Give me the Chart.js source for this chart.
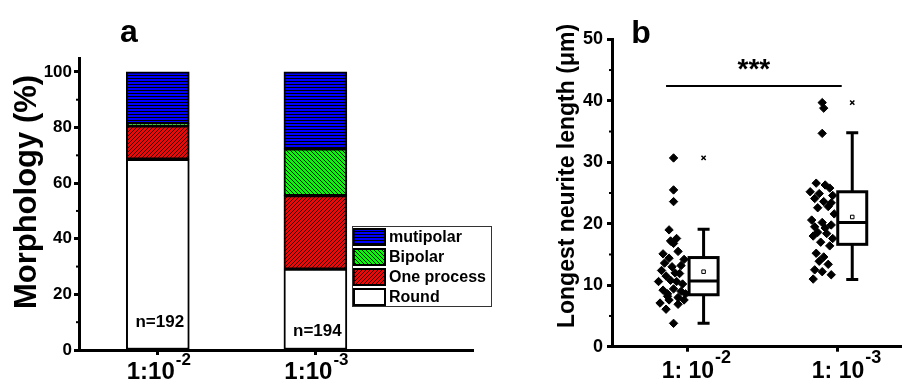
<!DOCTYPE html>
<html>
<head>
<meta charset="utf-8">
<script src="https://cdn.jsdelivr.net/npm/chart.js@4.4.0/dist/chart.umd.min.js"></script>
<style>
  html, body { margin: 0; padding: 0; background: #fff; overflow: hidden; }
  body { width: 902px; height: 386px; position: relative; }
  #chartA { position: absolute; left: 0; top: 0; }
  #chartB { position: absolute; left: 500px; top: 0; }
</style>
</head>
<body>
<canvas id="chartA" width="500" height="386"></canvas>
<canvas id="chartB" width="420" height="386"></canvas>
<script>
// ---- Panel a: morphology (%) ----
const dilutionsA = ['1:10', '1:10'];
const exponentsA = ['-2', '-3'];
const countLabels = ['n=192', 'n=194'];
const countLabelY = [10, 6.8];
const round = [68.6, 29.1];
const oneProcess = [12.0, 26.4];
const bipolar = [0.8, 16.8];
const mutipolar = [18.6, 27.7];
const morphTicks = [0, 20, 40, 60, 80, 100];
const morphMinor = [10, 30, 50, 70, 90];

// ---- Panel b: longest neurite length (um) ----
const dilutionsB = ['1: 10', '1: 10'];
const exponentsB = ['-2', '-3'];
const lengthTicks = [0, 10, 20, 30, 40, 50];
const lengthMinor = [5, 15, 25, 35, 45];

// raw points, group 1:10^-2 (x offset from category, value)
const group1Jitter = [-0.09, -0.09, -0.09, -0.12, -0.07, -0.09, -0.16, -0.06, -0.12, -0.02,
  -0.17, -0.10, -0.05, -0.14, -0.19, -0.11, -0.07, -0.03, -0.16, -0.09,
  -0.04, -0.01, -0.18, -0.12, -0.06, -0.02, -0.14, -0.09, -0.13, -0.08,
  -0.15, -0.04, -0.11, -0.13, -0.06];
const group1Length = [30.7, 25.5, 23.6, 19.0, 17.6, 16.8, 15.1, 15.5, 14.4, 14.2,
  12.4, 13.0, 11.9, 11.5, 10.6, 10.8, 10.6, 10.2, 9.2, 9.4,
  9.0, 8.6, 7.1, 7.6, 8.0, 7.6, 6.1, 3.8, 8.6, 12.0,
  13.6, 13.2, 17.2, 8.2, 6.9];

// raw points, group 1:10^-3
const group2Jitter = [-0.10, -0.09, -0.10, -0.14, -0.08, -0.05, -0.18, -0.12, -0.03, -0.15,
  -0.09, -0.04, -0.13, -0.06, -0.02, -0.17, -0.10, -0.04, -0.15, -0.08,
  -0.13, -0.07, -0.03, -0.16, -0.11, -0.05, -0.14, -0.09, -0.12, -0.06,
  -0.15, -0.10, -0.04, -0.16];
const group2Length = [39.7, 38.8, 34.7, 26.6, 26.3, 25.8, 25.2, 24.9, 24.6, 24.1,
  23.6, 23.4, 22.6, 22.8, 21.6, 20.6, 20.2, 19.8, 19.5, 19.3,
  18.6, 18.4, 17.6, 18.0, 17.0, 16.4, 15.2, 14.6, 13.9, 13.4,
  12.5, 12.2, 11.7, 11.0];

// box statistics
const boxPos = [0.11, 1.10];
const boxQ1 = [8.45, 16.65];
const boxMedian = [10.7, 20.2];
const boxQ3 = [14.5, 25.2];
const whiskerLow = [3.8, 10.95];
const whiskerHigh = [19.1, 34.8];
const meanLength = [12.2, 21.1];
const maxLength = [30.7, 39.7];

// significance bracket
const sigLevel = 42.4;
const sigFrom = -0.14;
const sigTo = 1.03;
const sigText = '***';

const FONT = "'Liberation Sans', Arial, sans-serif";
Chart.defaults.font.family = FONT;
Chart.defaults.color = '#000';

// hatch fills
function makePattern(color, kind) {
  const s = kind === 'h' ? 3 : 4;
  const c = document.createElement('canvas');
  c.width = s; c.height = s;
  const g = c.getContext('2d');
  g.fillStyle = color;
  g.fillRect(0, 0, s, s);
  g.strokeStyle = '#000';
  g.lineWidth = 1;
  g.beginPath();
  if (kind === 'h') {
    g.moveTo(0, 0.5); g.lineTo(s, 0.5);
  } else if (kind === 'f') { // "/"
    g.moveTo(-1, 1); g.lineTo(1, -1);
    g.moveTo(0, s); g.lineTo(s, 0);
    g.moveTo(s - 1, s + 1); g.lineTo(s + 1, s - 1);
  } else { // "\"
    g.moveTo(-1, s - 1); g.lineTo(1, s + 1);
    g.moveTo(0, 0); g.lineTo(s, s);
    g.moveTo(s - 1, -1); g.lineTo(s + 1, 1);
  }
  g.stroke();
  return g.createPattern(c, 'repeat');
}

function axisStyle(extra) {
  return Object.assign({
    offset: false,
    grid: { offset: false, drawOnChartArea: false, drawTicks: true, tickLength: 5, tickWidth: 3, color: '#000' },
    border: { display: true, width: 3, color: '#000' }
  }, extra);
}

// shared drawing: minor ticks, superscript tick labels, axis title, panel letter
function decor(cfg) {
  return {
    id: 'decor',
    afterDraw(chart) {
      const ctx = chart.ctx;
      const xs = chart.scales.x, ys = chart.scales.y;
      ctx.save();
      ctx.fillStyle = '#000';
      ctx.strokeStyle = '#000';
      ctx.lineWidth = 2;
      cfg.minor.forEach(v => {
        const y = ys.getPixelForValue(v);
        ctx.beginPath();
        ctx.moveTo(xs.left - 3, y);
        ctx.lineTo(xs.left, y);
        ctx.stroke();
      });
      cfg.labels.forEach((t, i) => {
        const x = xs.getPixelForValue(i) + cfg.labelShift;
        ctx.textBaseline = 'alphabetic';
        ctx.font = 'bold ' + cfg.mainSize + 'px ' + FONT;
        ctx.textAlign = 'right';
        ctx.fillText(t, x, cfg.mainBase);
        ctx.font = 'bold ' + cfg.supSize + 'px ' + FONT;
        ctx.textAlign = 'left';
        ctx.fillText(cfg.exps[i], x + 1, cfg.supBase);
      });
      ctx.font = 'bold 32px ' + FONT;
      ctx.textAlign = 'center';
      ctx.fillText(cfg.letter, cfg.letterX, cfg.letterBase);
      ctx.translate(cfg.titleX, cfg.titleY);
      ctx.rotate(-Math.PI / 2);
      ctx.font = 'bold ' + cfg.titleSize + 'px ' + FONT;
      ctx.textBaseline = 'middle';
      ctx.fillText(cfg.title, 0, 0);
      ctx.restore();
    }
  };
}

// ---- Chart a ----
const fills = {
  round: '#ffffff',
  one: makePattern('#ff0000', 'f'),
  bi: makePattern('#00ff00', 'b'),
  multi: makePattern('#0000ff', 'h')
};

function barSet(label, values, fill) {
  return {
    label: label,
    data: values.map((v, i) => ({ x: i, y: v })),
    backgroundColor: fill,
    borderColor: '#000',
    borderWidth: 2,
    borderSkipped: false,
    barThickness: 63
  };
}

const morphAnnotations = {
  id: 'morphAnnotations',
  afterDraw(chart) {
    const ctx = chart.ctx;
    const xs = chart.scales.x, ys = chart.scales.y;
    ctx.save();
    ctx.fillStyle = '#000';
    ctx.font = 'bold 17px ' + FONT;
    ctx.textAlign = 'center';
    ctx.textBaseline = 'middle';
    countLabels.forEach((t, i) => {
      ctx.fillText(t, xs.getPixelForValue(i) + 2, ys.getPixelForValue(countLabelY[i]));
    });
    // legend, top entry first
    const lx = 352, ly = 226;
    ctx.strokeStyle = '#333';
    ctx.lineWidth = 1;
    ctx.strokeRect(lx + 0.5, ly + 0.5, 139, 80);
    const sets = chart.data.datasets.slice().reverse();
    ctx.font = 'bold 16px ' + FONT;
    ctx.textAlign = 'left';
    sets.forEach((ds, k) => {
      const y = ly + 3 + k * 20;
      ctx.fillStyle = ds.backgroundColor;
      ctx.fillRect(lx + 2, y, 31, 16);
      ctx.strokeStyle = '#000';
      ctx.lineWidth = 2;
      ctx.strokeRect(lx + 2, y, 31, 16);
      ctx.fillStyle = '#000';
      ctx.fillText(ds.label, lx + 37, y + 8.5);
    });
    ctx.restore();
  }
};

new Chart(document.getElementById('chartA'), {
  type: 'bar',
  data: {
    datasets: [
      barSet('Round', round, fills.round),
      barSet('One process', oneProcess, fills.one),
      barSet('Bipolar', bipolar, fills.bi),
      barSet('mutipolar', mutipolar, fills.multi)
    ]
  },
  options: {
    responsive: false,
    animation: false,
    devicePixelRatio: 1,
    layout: { padding: { left: 0, right: 27, top: 58, bottom: 0 } },
    plugins: { legend: { display: false }, tooltip: { enabled: false } },
    scales: {
      x: axisStyle({
        type: 'linear', min: -0.5, max: 2, stacked: true,
        afterBuildTicks: s => { s.ticks = dilutionsA.map((d, i) => ({ value: i })); },
        ticks: { callback: () => '' },
        afterFit: s => { s.height = 36; }
      }),
      y: axisStyle({
        min: 0, max: 105, stacked: true,
        afterBuildTicks: s => { s.ticks = morphTicks.map(v => ({ value: v })); },
        ticks: { font: { size: 17, weight: 'bold' }, padding: 2 },
        afterFit: s => { s.width = 79; }
      })
    }
  },
  plugins: [morphAnnotations, decor({
    minor: morphMinor, labels: dilutionsA, exps: exponentsA,
    labelShift: 17, mainSize: 24, mainBase: 379, supSize: 17, supBase: 365,
    letter: 'a', letterX: 129, letterBase: 42,
    title: 'Morphology (%)', titleSize: 31, titleX: 27, titleY: 192
  })]
});

// ---- Chart b ----
const boxPlot = {
  id: 'boxPlot',
  beforeDatasetsDraw(chart) {
    const ctx = chart.ctx;
    const xs = chart.scales.x, ys = chart.scales.y;
    const half = 14.5, cap = 6;
    ctx.save();
    ctx.strokeStyle = '#000';
    ctx.lineWidth = 3;
    boxPos.forEach((p, i) => {
      const cx = xs.getPixelForValue(p);
      const yq1 = ys.getPixelForValue(boxQ1[i]);
      const yq3 = ys.getPixelForValue(boxQ3[i]);
      const ym = ys.getPixelForValue(boxMedian[i]);
      const ylo = ys.getPixelForValue(whiskerLow[i]);
      const yhi = ys.getPixelForValue(whiskerHigh[i]);
      ctx.fillStyle = '#fff';
      ctx.fillRect(cx - half, yq3, 2 * half, yq1 - yq3);
      ctx.strokeRect(cx - half, yq3, 2 * half, yq1 - yq3);
      ctx.beginPath();
      ctx.moveTo(cx - half, ym); ctx.lineTo(cx + half, ym);
      ctx.moveTo(cx, yq3); ctx.lineTo(cx, yhi);
      ctx.moveTo(cx - cap, yhi); ctx.lineTo(cx + cap, yhi);
      ctx.moveTo(cx, yq1); ctx.lineTo(cx, ylo);
      ctx.moveTo(cx - cap, ylo); ctx.lineTo(cx + cap, ylo);
      ctx.stroke();
    });
    ctx.restore();
  },
  afterDraw(chart) {
    const ctx = chart.ctx;
    const xs = chart.scales.x, ys = chart.scales.y;
    ctx.save();
    ctx.fillStyle = '#000';
    ctx.font = 'bold 28px ' + FONT;
    ctx.textAlign = 'center';
    ctx.textBaseline = 'alphabetic';
    ctx.fillText(sigText, (xs.getPixelForValue(sigFrom) + xs.getPixelForValue(sigTo)) / 2, ys.getPixelForValue(sigLevel) - 8);
    ctx.restore();
  }
};

function pointSet(jitter, values, cat) {
  return {
    type: 'scatter',
    data: values.map((v, i) => ({ x: cat + jitter[i], y: v })),
    pointStyle: 'rectRot',
    radius: 4.2,
    backgroundColor: '#000',
    borderColor: '#000',
    borderWidth: 1
  };
}

new Chart(document.getElementById('chartB'), {
  type: 'scatter',
  data: {
    datasets: [
      pointSet(group1Jitter, group1Length, 0),
      pointSet(group2Jitter, group2Length, 1),
      {
        type: 'scatter',
        data: meanLength.map((v, i) => ({ x: boxPos[i], y: v })),
        pointStyle: 'rect', radius: 2.5,
        backgroundColor: '#fff', borderColor: '#000', borderWidth: 1
      },
      {
        type: 'scatter',
        data: maxLength.map((v, i) => ({ x: boxPos[i], y: v })),
        pointStyle: 'crossRot', radius: 3,
        borderColor: '#000', borderWidth: 1.5
      },
      {
        type: 'line',
        data: [{ x: sigFrom, y: sigLevel }, { x: sigTo, y: sigLevel }],
        borderColor: '#000', borderWidth: 2, pointRadius: 0
      }
    ]
  },
  options: {
    responsive: false,
    animation: false,
    devicePixelRatio: 1,
    layout: { padding: { left: 0, right: 7.7, top: 39.3, bottom: 0 } },
    plugins: { legend: { display: false }, tooltip: { enabled: false } },
    scales: {
      x: axisStyle({
        type: 'linear', min: -0.5, max: 1.5,
        afterBuildTicks: s => { s.ticks = dilutionsB.map((d, i) => ({ value: i })); },
        ticks: { callback: () => '' },
        afterFit: s => { s.height = 39.3; }
      }),
      y: axisStyle({
        min: 0, max: 50,
        afterBuildTicks: s => { s.ticks = lengthTicks.map(v => ({ value: v })); },
        ticks: { font: { size: 18, weight: 'bold' }, padding: 4 },
        afterFit: s => { s.width = 112; }
      })
    }
  },
  plugins: [boxPlot, decor({
    minor: lengthMinor, labels: dilutionsB, exps: exponentsB,
    labelShift: 27, mainSize: 23, mainBase: 378, supSize: 18, supBase: 363,
    letter: 'b', letterX: 141, letterBase: 43,
    title: 'Longest neurite length (\u03bcm)', titleSize: 23, titleX: 67.5, titleY: 176
  })]
});
</script>
</body>
</html>
